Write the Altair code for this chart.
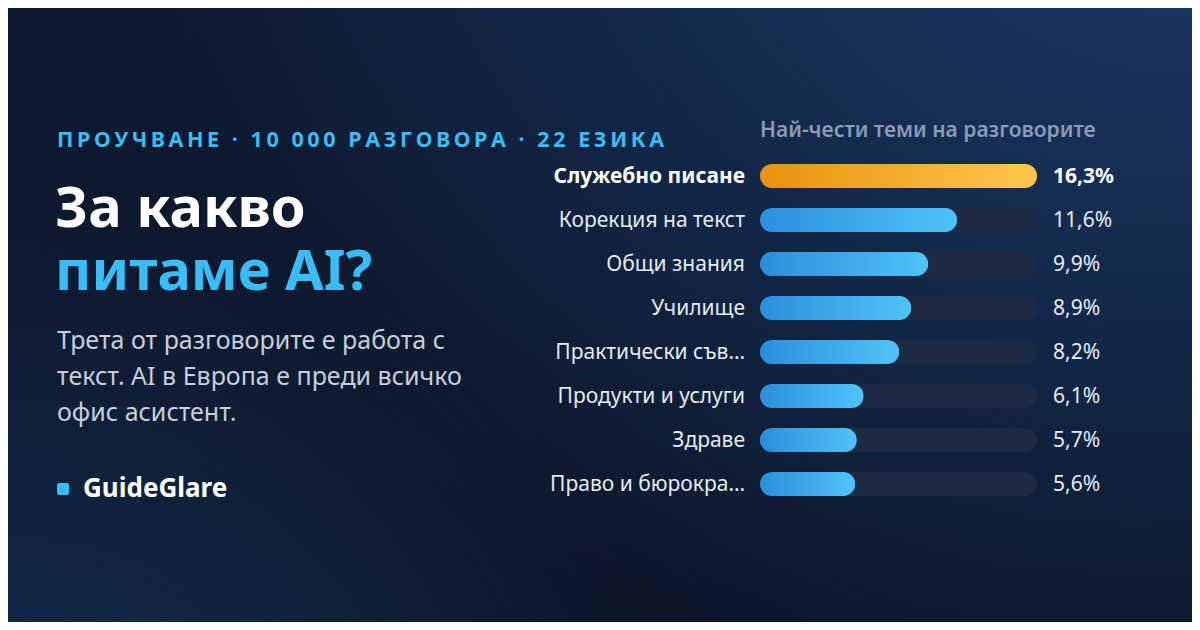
import altair as alt
import pandas as pd

# ---------------- data ----------------
categories = ["Служебно писане", "Корекция на текст", "Общи знания", "Училище",
              "Практически съв…", "Продукти и услуги", "Здраве", "Право и бюрокра…"]
values = [16.3, 11.6, 9.9, 8.9, 8.2, 6.1, 5.7, 5.6]
value_labels = ["16,3%", "11,6%", "9,9%", "8,9%", "8,2%", "6,1%", "5,7%", "5,6%"]
highlight = [1, 0, 0, 0, 0, 0, 0, 0]

kicker = "ПРОУЧВАНЕ · 10 000 РАЗГОВОРА · 22 ЕЗИКА"
title_line1 = "За какво"
title_line2 = "питаме AI?"
desc_lines = ["Трета от разговорите е работа с",
              "текст. AI в Европа е преди всичко",
              "офис асистент."]
brand = "GuideGlare"
chart_title = "Най-чести теми на разговорите"

FONT = "Noto Sans"
W, H = 1184, 614
BLUE = "#38bdf8"

df = pd.DataFrame({"cat": categories, "val": values, "lbl": value_labels, "hi": highlight})

xs = alt.Scale(domain=[0, max(values)], range=[752, 1029], nice=False, zero=True)
ys = alt.Scale(domain=categories, range=[146, 498], paddingInner=0, paddingOuter=0)

one = pd.DataFrame({"a": [0]})

# ---------------- background ----------------
bg = alt.Chart(one).mark_rect(color={
    "gradient": "linear", "x1": 0, "y1": 0, "x2": 1, "y2": 1,
    "stops": [{"offset": 0, "color": "#0d1a30"}, {"offset": 1, "color": "#0a1424"}]
}).encode(x=alt.value(0), x2=alt.value(W), y=alt.value(0), y2=alt.value(H))

glow_tr = alt.Chart(one).mark_rect(color={
    "gradient": "radial", "x1": 1, "y1": 0, "r1": 0, "x2": 1, "y2": 0, "r2": 0.9,
    "stops": [{"offset": 0, "color": "rgba(30,66,120,0.95)"},
              {"offset": 1, "color": "rgba(30,66,120,0)"}]
}).encode(x=alt.value(0), x2=alt.value(W), y=alt.value(0), y2=alt.value(H))

glow_bl = alt.Chart(one).mark_rect(color={
    "gradient": "radial", "x1": 0, "y1": 1, "r1": 0, "x2": 0, "y2": 1, "r2": 0.6,
    "stops": [{"offset": 0, "color": "rgba(26,56,100,0.75)"},
              {"offset": 1, "color": "rgba(26,56,100,0)"}]
}).encode(x=alt.value(0), x2=alt.value(W), y=alt.value(0), y2=alt.value(H))

# ---------------- bars ----------------
Y = alt.Y("cat:N", scale=ys, axis=None, sort=categories)

track = alt.Chart(df).transform_joinaggregate(full="max(val)").mark_bar(
    height=24, cornerRadius=12, color="#1d2a44"
).encode(y=Y, x=alt.X("full:Q", scale=xs, axis=None))

blue_bars = alt.Chart(df).transform_filter("datum.hi == 0").mark_bar(
    height=24, cornerRadius=12, color={
        "gradient": "linear", "x1": 0, "y1": 0, "x2": 1, "y2": 0,
        "stops": [{"offset": 0, "color": "#2a8fdd"}, {"offset": 1, "color": "#4fc3f7"}]}
).encode(y=Y, x=alt.X("val:Q", scale=xs, axis=None))

hi_bars = alt.Chart(df).transform_filter("datum.hi == 1").mark_bar(
    height=24, cornerRadius=12, color={
        "gradient": "linear", "x1": 0, "y1": 0, "x2": 1, "y2": 0,
        "stops": [{"offset": 0, "color": "#e8920e"}, {"offset": 1, "color": "#fec84c"}]}
).encode(y=Y, x=alt.X("val:Q", scale=xs, axis=None))

LS = 21
lab_norm = alt.Chart(df).transform_filter("datum.hi == 0").mark_text(
    align="right", baseline="middle", font=FONT, fontSize=LS, color="#e4ebf3", dy=1
).encode(y=Y, x=alt.value(737), text="cat:N")

lab_hi = alt.Chart(df).transform_filter("datum.hi == 1").mark_text(
    align="right", baseline="middle", font=FONT, fontSize=LS, fontWeight="bold", color="#ffffff", dy=1
).encode(y=Y, x=alt.value(737), text="cat:N")

val_norm = alt.Chart(df).transform_filter("datum.hi == 0").mark_text(
    align="left", baseline="middle", font=FONT, fontSize=LS, color="#e4ebf3", dy=1
).encode(y=Y, x=alt.value(1045), text="lbl:N")

val_hi = alt.Chart(df).transform_filter("datum.hi == 1").mark_text(
    align="left", baseline="middle", font=FONT, fontSize=LS, fontWeight="bold", color="#ffffff", dy=1
).encode(y=Y, x=alt.value(1045), text="lbl:N")

# ---------------- left texts ----------------
def txt(s, x, y, size, color, weight="normal", baseline="alphabetic"):
    return alt.Chart(pd.DataFrame({"t": [s]})).mark_text(
        align="left", baseline=baseline, font=FONT, fontSize=size,
        fontWeight=weight, color=color
    ).encode(x=alt.value(x), y=alt.value(y), text="t:N")

spaced_kicker = "\u2009".join(list(kicker))

t_kicker = txt(spaced_kicker, 49, 133, 21.5, BLUE, "bold", "middle")
t_title1 = txt(title_line1, 47, 219, 56, "#ffffff", "bold")
t_title2 = txt(title_line2, 47, 282, 56, BLUE, "bold")
t_desc = [txt(s, 49, 341 + 36 * i, 25, "#c5cfdd") for i, s in enumerate(desc_lines)]
t_brand = txt(brand, 75, 481, 26, "#ffffff", "bold", "middle")
t_ctitle = txt(chart_title, 752, 123, 21, "#8b9bb4", 600, "middle")

sq = alt.Chart(one).mark_rect(color=BLUE, cornerRadius=2).encode(
    x=alt.value(49), x2=alt.value(61), y=alt.value(475), y2=alt.value(487))

chart = alt.layer(
    bg, glow_tr, glow_bl, track, blue_bars, hi_bars, lab_norm, lab_hi, val_norm, val_hi,
    t_kicker, t_title1, t_title2, *t_desc, t_brand, t_ctitle, sq
).properties(width=W, height=H, padding=0, autosize="none", background="#0c1830"
).configure_view(stroke=None)

chart.save("out.html", embed_options={"renderer": "svg", "actions": False})
